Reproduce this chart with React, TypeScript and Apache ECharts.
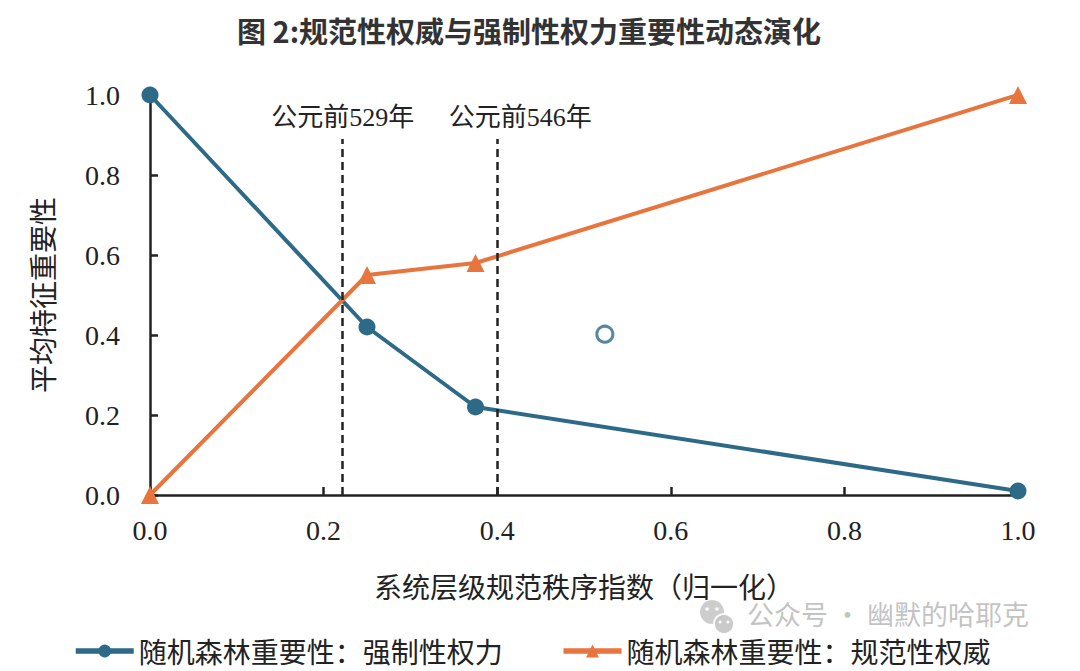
import React, { useEffect, useRef } from "react";
import * as echarts from "echarts";

const xCoercive = [0, 0.25, 0.375, 1.0];
const yCoercive = [1.0, 0.42, 0.22, 0.01];
const xNormative = [0, 0.25, 0.375, 1.0];
const yNormative = [0.0, 0.55, 0.58, 1.0];
const hollowPoint = [[0.524, 0.402]];
const eventX = [0.222, 0.4];
const eventLabels = ["公元前529年", "公元前546年"];
const eventTop = 0.89;

const seriesNames = ["随机森林重要性：强制性权力", "随机森林重要性：规范性权威"];
const titleText = "图 2:规范性权威与强制性权力重要性动态演化";
const xName = "系统层级规范秩序指数（归一化）";
const yName = "平均特征重要性";
const watermark = "公众号 · 幽默的哈耶克";

const BLUE = "#2d6a88";
const ORANGE = "#e8743e";
const INK = "#222222";
const CJK = "'Noto Sans CJK SC', sans-serif";
const NUM = "'Liberation Serif', 'Noto Sans CJK SC', serif";

export default function App() {
  const ref = useRef<HTMLDivElement>(null);
  useEffect(() => {
    document.body.style.margin = "0";
    if (!ref.current) return;
    const chart = echarts.init(ref.current, undefined, { renderer: "svg" });
    const zip = (xs: number[], ys: number[]) => xs.map((x, i) => [x, ys[i]]);
    const option: any = {
      animation: false,
      backgroundColor: "#ffffff",
      title: {
        text: titleText,
        left: 524,
        top: 10,
        textAlign: "center",
        textStyle: { fontFamily: CJK, fontSize: 29, fontWeight: "bold", color: "#333333" },
      },
      grid: { left: 150, right: 62, top: 95, bottom: 176, containLabel: false },
      legend: {
        data: seriesNames,
        left: 68,
        top: 632,
        itemWidth: 58,
        itemHeight: 16,
        itemGap: 58,
        lineStyle: { width: 5.5 },
        textStyle: { fontFamily: CJK, fontSize: 28, color: INK, padding: [0, 0, 0, 0] },
      },
      xAxis: {
        type: "value",
        min: 0,
        max: 1,
        interval: 0.2,
        name: xName,
        nameLocation: "middle",
        nameGap: 77,
        nameTextStyle: { fontFamily: CJK, fontSize: 28, color: INK },
        axisLine: { lineStyle: { color: INK, width: 2.5 } },
        axisTick: { inside: true, length: 8, lineStyle: { color: INK, width: 2.5 } },
        axisLabel: {
          margin: 21,
          fontFamily: NUM,
          fontSize: 28,
          color: INK,
          formatter: (v: number) => v.toFixed(1),
        },
        splitLine: { show: false },
      },
      yAxis: {
        type: "value",
        min: 0,
        max: 1,
        interval: 0.2,
        name: yName,
        nameLocation: "middle",
        nameGap: 94,
        nameTextStyle: { fontFamily: CJK, fontSize: 28, color: INK },
        axisLine: { show: true, lineStyle: { color: INK, width: 2.5 } },
        axisTick: { show: true, inside: true, length: 8, lineStyle: { color: INK, width: 2.5 } },
        axisLabel: {
          margin: 30,
          fontFamily: NUM,
          fontSize: 28,
          color: INK,
          formatter: (v: number) => v.toFixed(1),
        },
        splitLine: { show: false },
      },
      series: [
        {
          name: seriesNames[0],
          type: "line",
          data: zip(xCoercive, yCoercive),
          symbol: "circle",
          symbolSize: 17,
          clip: false,
          lineStyle: { color: BLUE, width: 4 },
          itemStyle: { color: BLUE },
          z: 3,
          markLine: {
            silent: true,
            symbol: "none",
            animation: false,
            lineStyle: { color: INK, width: 2.5, type: [8, 5] },
            label: {
              show: true,
              position: "end",
              distance: 9,
              fontFamily: NUM,
              fontSize: 26,
              color: INK,
            },
            data: eventX.map((x, i) => [
              {
                coord: [x, 0],
                label: { formatter: eventLabels[i], offset: i === 1 ? [23, 0] : [0, 0] },
              },
              { coord: [x, eventTop] },
            ]),
          },
        },
        {
          name: seriesNames[1],
          type: "line",
          data: zip(xNormative, yNormative),
          symbol: "triangle",
          symbolSize: 18,
          clip: false,
          lineStyle: { color: ORANGE, width: 4 },
          itemStyle: { color: ORANGE },
          z: 3,
        },
        {
          name: "hollow",
          type: "scatter",
          data: hollowPoint,
          symbol: "circle",
          symbolSize: 16,
          itemStyle: { color: "#ffffff", borderColor: BLUE, borderWidth: 3 },
          z: 4,
        },
      ],
      graphic: [
        {
          type: "group",
          z: 100,
          children: [
            { type: "circle", shape: { cx: 712, cy: 612, r: 12 }, style: { fill: "#c4c4c4", opacity: 0.85 } },
            { type: "circle", shape: { cx: 707, cy: 609, r: 1.8 }, style: { fill: "#ffffff" } },
            { type: "circle", shape: { cx: 717, cy: 609, r: 1.8 }, style: { fill: "#ffffff" } },
            {
              type: "circle",
              shape: { cx: 724, cy: 624, r: 10 },
              style: { fill: "#c4c4c4", stroke: "#ffffff", lineWidth: 2, opacity: 0.9 },
            },
            { type: "circle", shape: { cx: 720, cy: 622, r: 1.5 }, style: { fill: "#ffffff" } },
            { type: "circle", shape: { cx: 728, cy: 622, r: 1.5 }, style: { fill: "#ffffff" } },
            {
              type: "text",
              x: 747,
              y: 613,
              style: {
                text: watermark,
                fontFamily: CJK,
                fontSize: 27,
                fill: "#b8b8b8",
                opacity: 0.85,
                verticalAlign: "middle",
              },
            },
          ],
        },
      ],
    };
    chart.setOption(option);
    return () => chart.dispose();
  }, []);
  return <div ref={ref} style={{ width: 1080, height: 671 }} />;
}
